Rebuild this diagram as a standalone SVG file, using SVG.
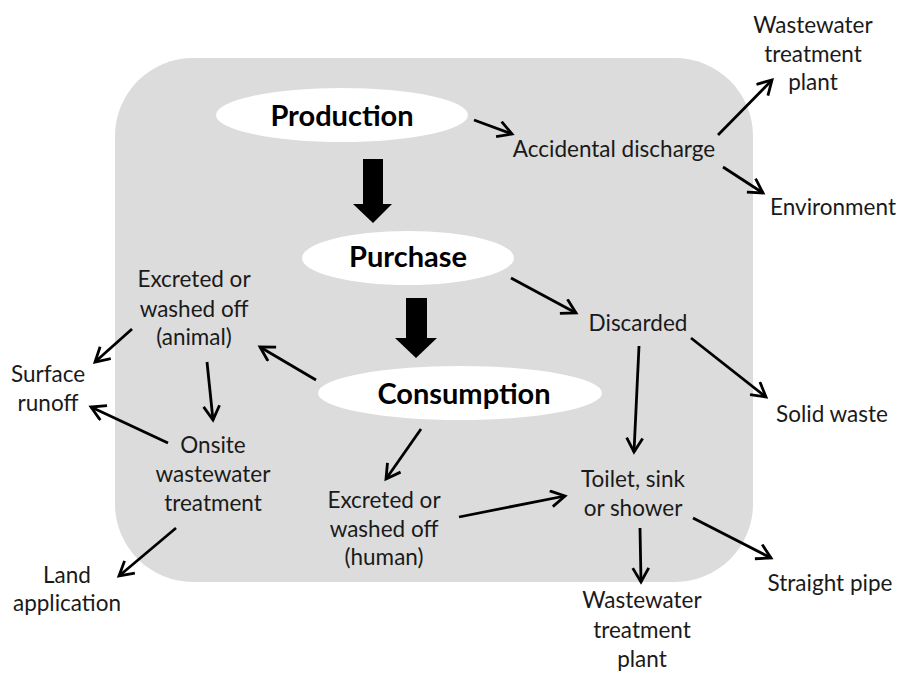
<svg xmlns="http://www.w3.org/2000/svg" width="901" height="673" viewBox="0 0 901 673">
<defs>
<style>
.t{font-family:Lato,"Liberation Sans",sans-serif;font-size:22.5px;fill:#1a1a1a;text-anchor:middle}
.b{font-family:Lato,"Liberation Sans",sans-serif;font-size:29px;font-weight:bold;fill:#000;text-anchor:middle}
.c line{stroke:#000;stroke-width:2.8;marker-end:url(#ah)}
.oval{fill:#fff}
.blk{fill:#000}
</style>
<marker id="ah" markerUnits="userSpaceOnUse" markerWidth="22" markerHeight="22" refX="16" refY="9" orient="auto">
<path d="M2,1 L16,9 L2,17" fill="none" stroke="#000" stroke-width="2.8" stroke-linejoin="miter"/>
</marker>
</defs>
<rect x="0" y="0" width="901" height="673" fill="#fff"/>
<rect x="115" y="58" width="638" height="524" rx="78" ry="78" fill="#dcdcdc"/>

<g id="production"><ellipse class="oval" cx="342" cy="115" rx="126" ry="27"/><text class="b" x="342" y="126">Production</text></g>
<g id="purchase"><ellipse class="oval" cx="408" cy="258" rx="106" ry="27"/><text class="b" x="408" y="267">Purchase</text></g>
<g id="consumption"><ellipse class="oval" cx="460" cy="393" rx="142" ry="27"/><text class="b" x="464" y="404">Consumption</text></g>

<g id="accidental"><text class="t" x="614" y="157">Accidental discharge</text></g>
<g id="wwtp-top"><text class="t" x="813" y="33">Wastewater</text><text class="t" x="813" y="62">treatment</text><text class="t" x="813" y="90">plant</text></g>
<g id="environment"><text class="t" x="833" y="215">Environment</text></g>
<g id="discarded"><text class="t" x="638" y="331">Discarded</text></g>
<g id="solid-waste"><text class="t" x="832" y="422">Solid waste</text></g>
<g id="toilet"><text class="t" x="633" y="487">Toilet, sink</text><text class="t" x="633" y="516">or shower</text></g>
<g id="straight-pipe"><text class="t" x="830" y="591">Straight pipe</text></g>
<g id="wwtp-bottom"><text class="t" x="642" y="608">Wastewater</text><text class="t" x="642" y="638">treatment</text><text class="t" x="642" y="667">plant</text></g>
<g id="excreted-animal"><text class="t" x="194" y="287">Excreted or</text><text class="t" x="194" y="317">washed off</text><text class="t" x="194" y="345">(animal)</text></g>
<g id="surface-runoff"><text class="t" x="48" y="382">Surface</text><text class="t" x="48" y="411">runoff</text></g>
<g id="onsite"><text class="t" x="213" y="453">Onsite</text><text class="t" x="213" y="482">wastewater</text><text class="t" x="213" y="511">treatment</text></g>
<g id="excreted-human"><text class="t" x="384" y="508">Excreted or</text><text class="t" x="384" y="537">washed off</text><text class="t" x="384" y="565">(human)</text></g>
<g id="land-application"><text class="t" x="67" y="583">Land</text><text class="t" x="67" y="611">application</text></g>

<g id="connectors">
<path class="blk" d="M363,159 H383 V204 H392 L373,223 L353,204 H363 Z"/>
<path class="blk" d="M406,298 H427 V338 H437 L416,358 L395,338 H406 Z"/>
<g class="c">
<line x1="474" y1="120" x2="512" y2="134"/>
<line x1="718" y1="135" x2="772" y2="80"/>
<line x1="723" y1="167" x2="763" y2="193"/>
<line x1="511" y1="278" x2="576" y2="313"/>
<line x1="691" y1="338" x2="766" y2="397"/>
<line x1="639" y1="346" x2="634" y2="452"/>
<line x1="459" y1="517" x2="565" y2="496"/>
<line x1="640" y1="528" x2="641" y2="582"/>
<line x1="693" y1="518" x2="771" y2="558"/>
<line x1="421" y1="429" x2="386" y2="479"/>
<line x1="316" y1="380" x2="260" y2="347"/>
<line x1="132" y1="329" x2="95" y2="362"/>
<line x1="207" y1="362" x2="213" y2="420"/>
<line x1="168" y1="443" x2="91" y2="407"/>
<line x1="176" y1="528" x2="119" y2="576"/>
</g>
</g>
</svg>
